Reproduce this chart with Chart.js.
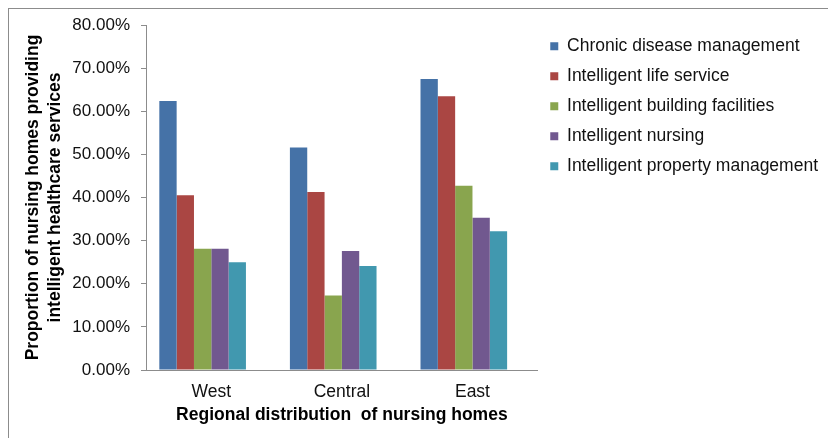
<!DOCTYPE html>
<html>
<head>
<meta charset="utf-8">
<script src="https://cdn.jsdelivr.net/npm/chart.js@4"></script>
<style>
  html, body { margin:0; padding:0; background:#fff; }
  #wrap { position:relative; width:828px; height:438px; }
  #frame { position:absolute; left:8px; top:8px; right:0; bottom:0; border-left:1px solid #8c8c8c; border-top:1px solid #8c8c8c; }
  #c { position:absolute; left:0; top:0; }
</style>
</head>
<body>
<div id="wrap">
  <div id="frame"></div>
  <canvas id="c" width="828" height="438"></canvas>
</div>
<script>
const regions = ['West', 'Central', 'East'];
const seriesNames = [
  'Chronic disease management',
  'Intelligent life service',
  'Intelligent building facilities',
  'Intelligent nursing',
  'Intelligent property management',
];
const chronicDisease = [62.4, 51.6, 67.5];
const lifeService = [40.5, 41.3, 63.5];
const buildingFacilities = [28.1, 17.3, 42.7];
const nursing = [28.1, 27.6, 35.3];
const propertyMgmt = [25.0, 24.1, 32.2];
const seriesColors = ['#4572A7', '#AA4643', '#89A54E', '#71588F', '#4198AF'];
const yTitle = ['Proportion of nursing homes providing', 'intelligent healthcare services'];
const xTitle = 'Regional distribution  of nursing homes';

const FONT = '"Liberation Sans", Arial, sans-serif';
const AXIS = '#8c8c8c';

const values = [chronicDisease, lifeService, buildingFacilities, nursing, propertyMgmt];
const datasets = values.map((data, i) => ({
  label: seriesNames[i],
  data,
  backgroundColor: seriesColors[i],
  borderWidth: 0,
  barPercentage: 1,
  categoryPercentage: 0.796,
}));
// empty slot on the right of each group (the original leaves one)
datasets.push({ label: '', data: regions.map(() => null), backgroundColor: 'rgba(0,0,0,0)', barPercentage: 1, categoryPercentage: 0.796 });

new Chart(document.getElementById('c'), {
  type: 'bar',
  data: { labels: regions, datasets },
  options: {
    responsive: false,
    animation: false,
    layout: { padding: { left: 12, top: 25, right: 0, bottom: 12 } },
    plugins: {
      tooltip: { enabled: false },
      legend: {
        position: 'right',
        align: 'start',
        maxWidth: 292,
        labels: {
          boxWidth: 8,
          boxHeight: 8,
          padding: 12.5,
          color: '#111',
          font: { family: FONT, size: 17.5 },
          filter: (item) => item.text !== '',
        },
      },
    },
    scales: {
      x: {
        grid: { display: false, drawTicks: false },
        border: { display: true, color: AXIS },
        ticks: { color: '#111', padding: 12, font: { family: FONT, size: 17.5 } },
        title: { display: true, text: xTitle, color: '#000', padding: 0, font: { family: FONT, size: 17.5, weight: 'bold' } },
        afterFit: (s) => { s.height = 56; },
      },
      y: {
        min: 0,
        max: 80,
        grid: { drawOnChartArea: false, drawTicks: true, tickLength: 5, color: AXIS },
        border: { display: true, color: AXIS },
        ticks: {
          stepSize: 10,
          padding: 11,
          color: '#111',
          font: { family: FONT, size: 17 },
          callback: (v) => v.toFixed(2) + '%',
        },
        title: {
          display: true,
          text: yTitle,
          color: '#000',
          padding: { top: 10, bottom: 0 },
          font: { family: FONT, size: 17.5, weight: 'bold', lineHeight: 1.257 },
        },
        afterFit: (s) => { s.width = 134; },
      },
    },
  },
});
</script>
</body>
</html>
